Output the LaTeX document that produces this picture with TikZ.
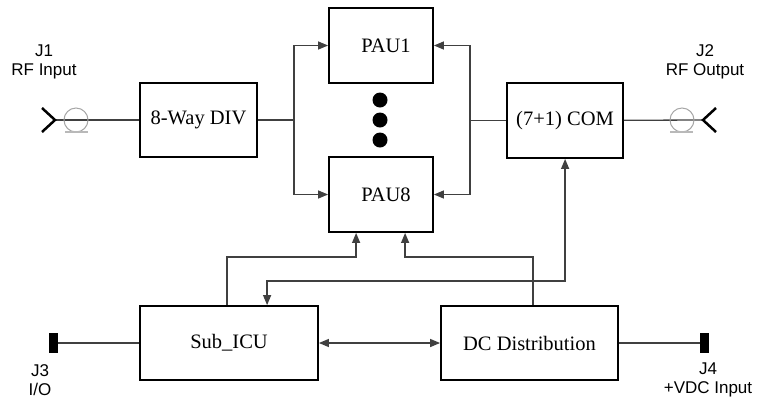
\documentclass[tikz,border=0pt]{standalone}
\usepackage{fontspec}
\setmainfont{Liberation Serif}
\newfontfamily\jackfont{Liberation Sans}
\usetikzlibrary{arrows.meta, positioning, calc}

\begin{document}
\begin{tikzpicture}[x=1pt, y=-1pt,
    block/.style={draw, line width=1.8pt, inner sep=0pt, font=\fontsize{20.5}{24}\selectfont},
    wire/.style={line width=1.3pt, draw=black!75},
    jack/.style={font=\jackfont\fontsize{17}{19}\selectfont, align=center, inner sep=0pt},
    pin/.style={fill=black, inner sep=0pt, minimum width=9pt, minimum height=20pt},
    >={Triangle[length=10pt, width=8pt]}]
  \useasboundingbox (0,0) rectangle (767,400);

  % blocks
  \node[block, minimum width=104pt, minimum height=75pt] (pau1) at (381,45.5) {\hspace{10pt}PAU1};
  \node[block, minimum width=104pt, minimum height=75pt] (pau8) at (381,194.5) {\hspace{10pt}PAU8};
  \node[block, minimum width=117pt, minimum height=74pt] (div) at (198.5,120) {8-Way DIV};
  \node[block, minimum width=116pt, minimum height=75pt] (com) at (565,120.5) {(7+1) COM};
  \node[block, minimum width=178pt, minimum height=74pt] (sub) at (229,343) {Sub\_ICU};
  \node[block, minimum width=177pt, minimum height=74pt] (dc) at (529.5,343) {DC Distribution};

  \foreach \dy in {-20,0,20}
    \fill ($(pau1.south)!0.5!(pau8.north)+(-1,\dy)$) circle (7.5);

  % splitter / combiner forks
  \coordinate[right=36pt of div] (lf);
  \coordinate[left=36pt of com] (rf);
  \draw[wire] (div) -- (lf);
  \draw[wire,->] (lf) |- (pau1.west);
  \draw[wire,->] (lf) |- (pau8.west);
  \draw[wire] (com) -- (rf);
  \draw[wire,->] (rf) |- (pau1.east);
  \draw[wire,->] (rf) |- (pau8.east);

  % RF jacks
  \coordinate (j1) at (55,120);
  \coordinate (j2) at (703,120);
  \draw[wire] (j1) -- (div);
  \draw[wire] (com) -- (j2);
  \draw[line width=2.5pt] ($(j1)+(-13,-12)$) -- (j1) -- ($(j1)+(-13,12)$);
  \draw[line width=2.5pt] ($(j2)+(13,-12)$) -- (j2) -- ($(j2)+(13,12)$);
  \draw[gray!70, line width=1pt] ($(j1)+(21,0)$) circle (12);
  \draw[gray!70, line width=1pt] ($(j2)+(-21,0)$) circle (12);
  \draw[gray!55, line width=1.5pt] ($(j1)+(10,12)$) -- ++(23,0);
  \draw[gray!55, line width=1.5pt] ($(j2)+(-33,12)$) -- ++(23,0);
  \node[jack] (j1lab) at (44,62) {J1\\RF Input};
  \node[jack] (j2lab) at (705,62) {J2\\RF Output};

  % I/O and power pins
  \node[pin] (j3) at (53.5,343) {};
  \node[pin] (j4) at (704.5,343) {};
  \draw[wire] (j3) -- (sub);
  \draw[wire] (dc) -- (j4);
  \node[jack] (j3lab) at (40,380) {J3\\I/O};
  \node[jack] (j4lab) at (708,380) {J4\\+VDC Input};

  % control and DC routing
  \coordinate (busA) at (0,257);
  \coordinate (busB) at (0,281);
  \coordinate (s1) at ($(sub.north west)+(88,0)$);
  \coordinate (s2) at ($(sub.north west)+(128,0)$);
  \coordinate (d1) at ($(dc.north west)+(93,0)$);
  \coordinate (c1) at ($(com.south west)+(59,0)$);
  \coordinate (p8a) at ($(pau8.south west)+(28,0)$);
  \coordinate (p8b) at ($(pau8.south west)+(77,0)$);
  \draw[wire,->] (s1) -- (s1 |- busA) -| (p8a);
  \draw[wire,->] (d1) -- (d1 |- busA) -| (p8b);
  \draw[wire,<->] (c1) -- (c1 |- busB) -| (s2);
  \draw[wire,<->] (sub) -- (dc);
\end{tikzpicture}
\end{document}
